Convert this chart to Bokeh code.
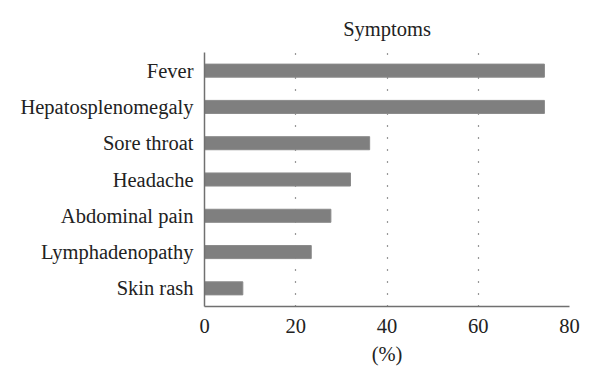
from bokeh.plotting import figure
from bokeh.embed import file_html
from bokeh.resources import INLINE
from bokeh.models import FixedTicker, ColumnDataSource

categories = ["Fever", "Hepatosplenomegaly", "Sore throat", "Headache",
              "Abdominal pain", "Lymphadenopathy", "Skin rash"]
values = [74.5, 74.5, 36.2, 32.0, 27.7, 23.4, 8.4]
x_ticks = [0, 20, 40, 60, 80]

FONT = "Liberation Serif"

src = ColumnDataSource(dict(cat=categories, val=values))

p = figure(y_range=list(reversed(categories)), x_range=(0, 80),
           width=600, height=387, output_backend="svg", toolbar_location=None,
           min_border_left=204, min_border_right=31, min_border_top=52,
           min_border_bottom=81, title="Symptoms")

p.hbar(y="cat", right="val", left=0, height=0.36, source=src,
       fill_color="#7f7f7f", line_color="#8a8a8a", line_width=1)

p.outline_line_color = None
p.title.align = "center"
p.title.text_font = FONT
p.title.text_font_style = "normal"
p.title.text_font_size = "20.5px"
p.title.text_color = "#222222"
p.title.standoff = 26

p.xaxis.ticker = FixedTicker(ticks=x_ticks)
p.xaxis.axis_label = "(%)"
p.xaxis.axis_label_text_font = FONT
p.xaxis.axis_label_text_font_style = "normal"
p.xaxis.axis_label_text_font_size = "20.5px"
p.xaxis.axis_label_standoff = 7
p.xaxis.major_label_standoff = 6

for ax in (p.xaxis, p.yaxis):
    ax.axis_line_color = "#707070"
    ax.axis_line_width = 1.5
    ax.major_tick_line_color = None
    ax.minor_tick_line_color = None
    ax.major_label_text_font = FONT
    ax.major_label_text_font_size = "20.5px"
    ax.major_label_text_color = "#222222"
p.yaxis.major_label_standoff = 5
p.axis.axis_label_text_color = "#222222"

p.ygrid.grid_line_color = None
p.xgrid.ticker = FixedTicker(ticks=[20, 40, 60, 80])
p.xgrid.grid_line_color = "#333333"
p.xgrid.grid_line_dash = "1 11"
p.xgrid.grid_line_width = 1.2

open("out.html", "w").write(file_html(p, INLINE))
